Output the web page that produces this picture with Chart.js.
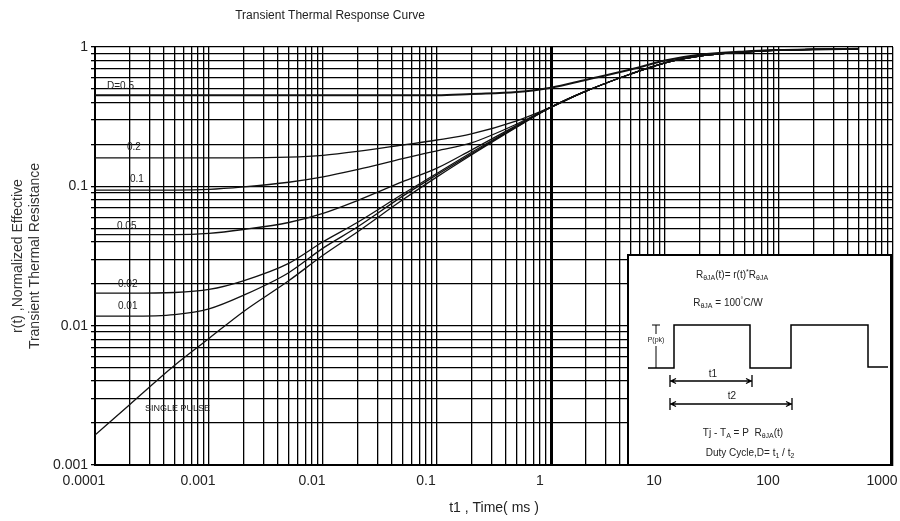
<!DOCTYPE html>
<html><head><meta charset="utf-8">
<script src="https://cdn.jsdelivr.net/npm/chart.js@4"></script>
<style>html,body{margin:0;padding:0;background:#fff;}#wrap{width:900px;height:521px;}</style>
</head><body><div id="wrap"><canvas id="c" width="900" height="521"></canvas></div>
<script>
// ---- data ----
const timeMs = [1e-4, 2e-4, 5e-4, 1e-3, 2e-3, 5e-3, 1e-2, 2e-2, 5e-2, 0.1, 0.2, 0.5, 1, 2, 5, 10, 20, 50, 100, 200, 500];
const dutyLabels = ['D=0.5', '0.2', '0.1', '0.05', '0.02', '0.01', 'SINGLE PULSE'];
const rD05 = [0.45,0.45,0.45,0.45,0.45,0.45,0.45,0.45,0.45,0.45,0.46,0.475,0.51,0.58,0.69,0.80,0.88,0.93,0.95,0.96,0.97];
const rD02 = [0.16,0.16,0.16,0.16,0.16,0.162,0.167,0.178,0.198,0.215,0.238,0.295,0.37,0.48,0.64,0.77,0.86,0.92,0.95,0.96,0.97];
const rD01 = [0.094,0.094,0.094,0.095,0.099,0.107,0.117,0.132,0.158,0.18,0.205,0.28,0.37,0.48,0.64,0.77,0.86,0.92,0.95,0.96,0.97];
const rD005 = [0.045,0.045,0.045,0.046,0.049,0.055,0.064,0.079,0.108,0.135,0.182,0.274,0.37,0.48,0.64,0.77,0.86,0.92,0.95,0.96,0.97];
const rD002 = [0.0171,0.0171,0.0173,0.0182,0.021,0.028,0.04,0.055,0.088,0.124,0.175,0.27,0.37,0.48,0.64,0.77,0.86,0.92,0.95,0.96,0.97];
const rD001 = [0.0117,0.0117,0.012,0.0132,0.0165,0.024,0.036,0.051,0.085,0.121,0.171,0.268,0.37,0.48,0.64,0.77,0.86,0.92,0.95,0.96,0.97];
const rSingle = [0.00164,0.0027,0.0052,0.0081,0.0126,0.021,0.032,0.047,0.08,0.117,0.168,0.266,0.37,0.48,0.64,0.77,0.86,0.92,0.95,0.96,0.97];

const xDecades = [0.0001, 0.001, 0.01, 0.1, 1, 10, 100, 1000];
const xTickLabels = ['0.0001', '0.001', '0.01', '0.1', '1', '10', '100', '1000'];
const yDecades = [0.001, 0.01, 0.1, 1];
const yTickLabels = ['0.001', '0.01', '0.1', '1'];
const minorSteps = [1, 2, 3, 4, 5, 6, 7, 8, 9];

function gridValues(decades) {
  const out = [];
  decades.forEach((d, i) => {
    if (i === decades.length - 1) { out.push(d); return; }
    minorSteps.forEach(m => out.push(+(d * m).toPrecision(3)));
  });
  return out;
}
const xGrid = gridValues(xDecades);
const yGrid = gridValues(yDecades);

const series = [rD05, rD02, rD01, rD005, rD002, rD001, rSingle];
const datasets = series.map((arr, i) => ({
  label: dutyLabels[i],
  data: timeMs.map((t, k) => ({ x: t, y: arr[k] })),
  borderColor: '#111',
  borderWidth: i === 0 ? 2 : 1.3,
  pointRadius: 0,
  cubicInterpolationMode: 'monotone',
  fill: false
}));

const FONT = '"Liberation Sans", Arial, sans-serif';

function drawRuns(ctx, cx, y, parts, size) {
  const fN = size + 'px ' + FONT, fS = Math.round(size * 0.7) + 'px ' + FONT;
  let w = 0;
  parts.forEach(p => { ctx.font = p[1] === 'n' ? fN : fS; w += ctx.measureText(p[0]).width; });
  let x = cx - w / 2;
  ctx.textAlign = 'left';
  ctx.textBaseline = 'alphabetic';
  parts.forEach(p => {
    ctx.font = p[1] === 'n' ? fN : fS;
    const dy = p[1] === 's' ? 2 : (p[1] === 'u' ? -4 : 0);
    ctx.fillText(p[0], x, y + dy);
    x += ctx.measureText(p[0]).width;
  });
}

const annot = {
  id: 'annot',
  afterDraw(chart) {
    const ctx = chart.ctx;
    const a = chart.chartArea;
    ctx.save();
    // title
    ctx.fillStyle = '#222';
    ctx.font = '12px ' + FONT;
    ctx.textAlign = 'center';
    ctx.textBaseline = 'middle';
    ctx.fillText('Transient Thermal Response Curve', 330, 16);
    // curve labels
    ctx.font = '10px ' + FONT;
    ctx.textAlign = 'left';
    ctx.fillStyle = '#222';
    const labs = [['D=0.5', 107, 86], ['0.2', 127, 147], ['0.1', 130, 179], ['0.05', 117, 226], ['0.02', 118, 284], ['0.01', 118, 306]];
    labs.forEach(l => ctx.fillText(l[0], l[1], l[2]));
    ctx.font = '9px ' + FONT;
    ctx.fillText('SINGLE PULSE', 145, 409);
    // inset box
    const bx = 628, by = 255, bw = a.right - 628 - 2, bh = a.bottom - 255;
    ctx.fillStyle = '#fff';
    ctx.fillRect(bx, by, bw, bh);
    ctx.strokeStyle = '#000';
    ctx.lineWidth = 2;
    ctx.strokeRect(bx, by, bw, bh);
    ctx.fillStyle = '#222';
    drawRuns(ctx, 732, 278, [['R', 'n'], ['θJA', 's'], ['(t)= r(t)', 'n'], ['*', 'u'], ['R', 'n'], ['θJA', 's']], 10);
    drawRuns(ctx, 728, 306, [['R', 'n'], ['θJA', 's'], [' = 100', 'n'], ['°', 'u'], ['C/W', 'n']], 10);
    // pulse waveform
    ctx.lineWidth = 1.5;
    ctx.beginPath();
    ctx.moveTo(648, 368); ctx.lineTo(674, 368); ctx.lineTo(674, 325); ctx.lineTo(750, 325);
    ctx.lineTo(750, 368); ctx.lineTo(791, 368); ctx.lineTo(791, 325); ctx.lineTo(868, 325);
    ctx.lineTo(868, 367); ctx.lineTo(888, 367);
    ctx.stroke();
    // P(pk) arrow
    ctx.lineWidth = 1;
    ctx.beginPath();
    ctx.moveTo(656, 325); ctx.lineTo(656, 334); ctx.moveTo(656, 346); ctx.lineTo(656, 368);
    ctx.moveTo(652, 325); ctx.lineTo(660, 325);
    ctx.stroke();
    ctx.font = '7px ' + FONT;
    ctx.textAlign = 'center';
    ctx.textBaseline = 'middle';
    ctx.fillText('P(pk)', 656, 340);
    // t1 / t2 arrows
    function dim(x1, x2, y) {
      ctx.beginPath();
      ctx.moveTo(x1, y); ctx.lineTo(x2, y);
      ctx.moveTo(x1, y - 6); ctx.lineTo(x1, y + 6);
      ctx.moveTo(x2, y - 6); ctx.lineTo(x2, y + 6);
      ctx.moveTo(x1 + 6, y - 2.5); ctx.lineTo(x1 + 1, y); ctx.lineTo(x1 + 6, y + 2.5);
      ctx.moveTo(x2 - 6, y - 2.5); ctx.lineTo(x2 - 1, y); ctx.lineTo(x2 - 6, y + 2.5);
      ctx.stroke();
    }
    ctx.lineWidth = 1.3;
    dim(670, 752, 381);
    dim(670, 792, 404);
    ctx.font = '10px ' + FONT;
    ctx.fillText('t1', 713, 374);
    ctx.fillText('t2', 732, 396);
    drawRuns(ctx, 743, 436, [['Tj - T', 'n'], ['A', 's'], [' = P  R', 'n'], ['θJA', 's'], ['(t)', 'n']], 10);
    drawRuns(ctx, 750, 456, [['Duty Cycle,D= t', 'n'], ['1', 's'], [' / t', 'n'], ['2', 's']], 10);
    ctx.restore();
  }
};

new Chart(document.getElementById('c'), {
  type: 'line',
  data: { datasets },
  options: {
    responsive: false,
    devicePixelRatio: 1,
    animation: false,
    layout: { padding: { top: 47, right: 7, left: 0, bottom: 0 } },
    plugins: { legend: { display: false }, tooltip: { enabled: false }, title: { display: false } },
    scales: {
      x: {
        type: 'logarithmic',
        min: 0.0001, max: 1000,
        afterBuildTicks: s => { s.ticks = xGrid.map(v => ({ value: v })); },
        afterFit: s => { s.height = 56; s.paddingLeft = 0; s.paddingRight = 0; },
        ticks: {
          autoSkip: false, maxRotation: 0, padding: 8, labelOffset: -11,
          color: '#222', font: { family: FONT, size: 14 },
          callback: v => { const i = xDecades.findIndex(d => Math.abs(d - v) / d < 1e-6); return i >= 0 ? xTickLabels[i] : ''; }
        },
        grid: {
          color: '#000', drawTicks: false,
          lineWidth: c => (c.tick && c.tick.value === 1) ? 3 : 1.3
        },
        border: { display: true, color: '#000', width: 2 },
        title: { display: true, text: 't1 , Time( ms )', color: '#222', font: { family: FONT, size: 14 }, padding: { top: 2, bottom: 4 } }
      },
      y: {
        type: 'logarithmic',
        min: 0.001, max: 1,
        afterBuildTicks: s => { s.ticks = yGrid.map(v => ({ value: v })); },
        afterFit: s => { s.width = 95; s.paddingTop = 0; s.paddingBottom = 0; },
        ticks: {
          autoSkip: false, padding: 3,
          color: '#222', font: { family: FONT, size: 14 },
          callback: v => { const i = yDecades.findIndex(d => Math.abs(d - v) / d < 1e-6); return i >= 0 ? yTickLabels[i] : ''; }
        },
        grid: { color: '#000', lineWidth: 1.3, tickLength: 4 },
        border: { display: true, color: '#000', width: 2 },
        title: { display: true, text: ['r(t) ,Normalized Effective', 'Transient Thermal Resistance'], color: '#333', font: { family: FONT, size: 14 }, padding: { top: 10, bottom: 2 } }
      }
    }
  },
  plugins: [annot]
});
</script>
</body></html>
